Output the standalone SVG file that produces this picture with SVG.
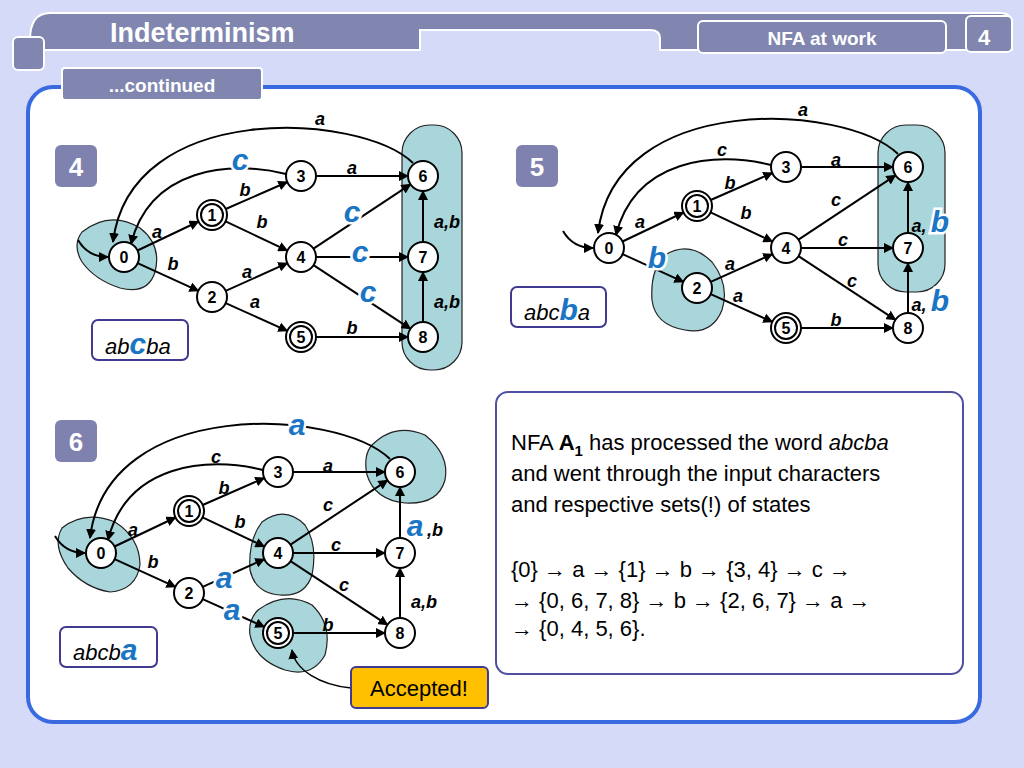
<svg xmlns="http://www.w3.org/2000/svg" width="1024" height="768" viewBox="0 0 1024 768">
<defs>
<marker id="ar" viewBox="0 0 10 10" refX="9" refY="5" markerWidth="10" markerHeight="10" markerUnits="userSpaceOnUse" orient="auto"><path d="M0,0L10,5L0,10z" fill="#000"/></marker>
<style>
.hdr{fill:#8086b0;stroke:#fff;stroke-width:2}
.ht{font-family:"Liberation Sans",Arial,sans-serif;font-weight:bold;fill:#fff}
.n circle{fill:#fff;stroke:#000;stroke-width:2}
.n text{font-family:"Liberation Sans",Arial,sans-serif;font-weight:bold;font-size:16px;text-anchor:middle}
.e path{fill:none;stroke:#000;stroke-width:2;marker-end:url(#ar)}
.l{font-family:"Liberation Sans",Arial,sans-serif;font-weight:bold;font-style:italic;font-size:18px;text-anchor:middle}
.bl{font-family:"Liberation Sans",Arial,sans-serif;font-weight:bold;font-style:italic;font-size:30px;fill:#1a75c4;text-anchor:middle;stroke:#fff;stroke-width:5;paint-order:stroke}
.hl{fill:#a9d6da;stroke:#222;stroke-width:1.2}
.badge{fill:#7f82ae}
.bt{font-family:"Liberation Sans",Arial,sans-serif;font-weight:bold;font-size:26px;fill:#fff;text-anchor:middle}
.wb{fill:#fff;stroke:#403a90;stroke-width:2}
.wt{font-family:"Liberation Sans",Arial,sans-serif;font-style:italic;font-size:22px}
.tx{font-family:"Liberation Sans",Arial,sans-serif;font-size:22px}
</style>
<g id="graph">
<g class="e">
<path d="M78,240 C85,252 95,257 108,257"/>
<path d="M137.5,250.5 L198.5,221.5"/>
<path d="M137.6,263.2 L198.4,290.8"/>
<path d="M225.7,209 L287.3,182"/>
<path d="M225.6,221.4 L287.4,250.6"/>
<path d="M225.7,290.9 L287.3,263.1"/>
<path d="M225.7,303.1 L287.3,330.9"/>
<path d="M316,176 L408,176"/>
<path d="M313.5,248.7 L410.5,184.3"/>
<path d="M316,257 L408,257"/>
<path d="M313.5,265.2 L410.5,328.8"/>
<path d="M316,337 L408,337"/>
<path d="M423,242 L423,191"/>
<path d="M423,322 L423,272"/>
<path d="M413,163 C360,112 130,100 113,242"/>
<path d="M286,174 C230,160 150,168 131,244"/>
</g>
<g class="n">
<circle cx="124" cy="257" r="15"/><text x="124" y="263">0</text>
<circle cx="212" cy="215" r="15"/><circle cx="212" cy="215" r="11"/><text x="212" y="221">1</text>
<circle cx="212" cy="297" r="15"/><text x="212" y="303">2</text>
<circle cx="301" cy="176" r="15"/><text x="301" y="182">3</text>
<circle cx="301" cy="257" r="15"/><text x="301" y="263">4</text>
<circle cx="301" cy="337" r="15"/><circle cx="301" cy="337" r="11"/><text x="301" y="343">5</text>
<circle cx="423" cy="176" r="15"/><text x="423" y="182">6</text>
<circle cx="423" cy="257" r="15"/><text x="423" y="263">7</text>
<circle cx="423" cy="337" r="15"/><text x="423" y="343">8</text>
</g>
</g>
</defs>
<rect width="1024" height="768" fill="#d4daf8"/>
<g id="header">
<path d="M30,40 Q30,13 50,13 L1000,13 Q1012,13 1012,25 L1012,50 L660,50 L660,38 Q660,30 650,30 L420,30 L420,50 L30,50 Z" class="hdr"/>
<text x="110" y="42" font-size="27" class="ht">Indeterminism</text>
<rect x="698" y="21" width="248" height="32" rx="5" class="hdr"/>
<text x="822" y="45" font-size="19" class="ht" text-anchor="middle">NFA at work</text>
<rect x="966" y="16" width="46" height="36" rx="5" class="hdr"/>
<text x="984" y="45" font-size="22" class="ht" text-anchor="middle">4</text>
<rect x="13" y="37" width="31" height="33" rx="5" class="hdr"/>
</g>
<rect x="28" y="87" width="952" height="635" rx="25" fill="#fff" stroke="#3a6ae0" stroke-width="4"/>
<g id="tab"><rect x="62" y="68" width="200" height="32" rx="3" class="hdr"/>
<text x="162" y="92" font-size="19" class="ht" text-anchor="middle">...continued</text></g>

<g id="panel4">
<path class="hl" d="M82,232 Q110,210 140,228 Q162,245 155,272 Q148,295 120,288 Q95,280 82,262 Q72,245 82,232Z"/>
<rect class="hl" x="402" y="125" width="60" height="245" rx="28"/>
<use href="#graph"/>
<rect class="badge" x="55" y="145" width="42" height="42" rx="6"/><text class="bt" x="76" y="176">4</text>
<text class="l" x="320" y="125">a</text>
<text class="bl" x="240" y="170">c</text>
<text class="l" x="245" y="196">b</text>
<text class="l" x="262" y="228">b</text>
<text class="l" x="157" y="238">a</text>
<text class="l" x="173" y="270">b</text>
<text class="l" x="247" y="278">a</text>
<text class="l" x="255" y="308">a</text>
<text class="bl" x="352" y="222">c</text>
<text class="bl" x="360" y="262">c</text>
<text class="bl" x="368" y="302">c</text>
<text class="l" x="352" y="174">a</text>
<text class="l" x="352" y="334">b</text>
<text class="l" x="447" y="228">a,b</text>
<text class="l" x="447" y="308">a,b</text>
<rect class="wb" x="92" y="320" width="96" height="40" rx="6"/>
<text class="wt" x="105" y="354">ab<tspan font-weight="bold" font-size="30" fill="#1a75c4">c</tspan>ba</text>
</g>

<g id="panel5">
<path class="hl" d="M665,255 Q690,240 712,262 Q730,285 722,310 Q712,335 685,330 Q655,325 652,300 Q650,270 665,255Z"/>
<rect class="hl" x="878" y="125" width="67" height="167" rx="28"/>
<use href="#graph" transform="translate(485,-9)"/>
<rect class="badge" x="516" y="145" width="42" height="42" rx="6"/><text class="bt" x="537" y="176">5</text>
<g transform="translate(485,-9)">
<text class="l" x="318" y="125">a</text>
<text class="l" x="237" y="165">c</text>
<text class="l" x="245" y="198">b</text>
<text class="l" x="261" y="228">b</text>
<text class="l" x="155" y="237">a</text>
<text class="bl" x="172" y="277">b</text>
<text class="l" x="245" y="279">a</text>
<text class="l" x="253" y="311">a</text>
<text class="l" x="351" y="215">c</text>
<text class="l" x="358" y="255">c</text>
<text class="l" x="367" y="296">c</text>
<text class="l" x="351" y="175">a</text>
<text class="l" x="351" y="335">b</text>
<text class="l" x="434" y="241">a,</text><text class="bl" x="455" y="241">b</text>
<text class="l" x="434" y="320">a,</text><text class="bl" x="455" y="320">b</text>
</g>
<rect class="wb" x="511" y="287" width="95" height="40" rx="6"/>
<text class="wt" x="524" y="320">abc<tspan font-weight="bold" font-size="30" fill="#1a75c4">b</tspan>a</text>
</g>

<g id="panel6">
<path class="hl" d="M62,528 Q85,510 115,522 Q140,538 140,565 Q136,590 110,592 Q85,588 68,568 Q52,545 62,528Z"/>
<path class="hl" d="M262,522 Q285,505 305,525 Q318,545 312,575 Q305,597 280,595 Q255,593 250,570 Q248,540 262,522Z"/>
<path class="hl" d="M258,610 Q285,590 312,605 Q333,625 325,655 Q312,678 285,670 Q255,660 250,635 Q248,620 258,610Z"/>
<path class="hl" d="M372,445 Q395,422 425,435 Q450,455 445,480 Q438,505 405,503 Q375,500 367,475 Q363,455 372,445Z"/>
<use href="#graph" transform="translate(-23,296)"/>
<rect class="badge" x="55" y="420" width="42" height="42" rx="6"/><text class="bt" x="76" y="451">6</text>
<g transform="translate(-23,296)">
<text class="bl" x="320" y="139">a</text>
<text class="l" x="239" y="167">c</text>
<text class="l" x="247" y="198">b</text>
<text class="l" x="263" y="232">b</text>
<text class="l" x="156" y="240">a</text>
<text class="l" x="176" y="272">b</text>
<text class="bl" x="247" y="292">a</text>
<text class="bl" x="255" y="324">a</text>
<text class="l" x="351" y="215">c</text>
<text class="l" x="359" y="255">c</text>
<text class="l" x="367" y="295">c</text>
<text class="l" x="351" y="176">a</text>
<text class="l" x="351" y="335">b</text>
<text class="bl" x="438" y="240">a</text><text class="l" x="458" y="240">,b</text>
<text class="l" x="447" y="312">a,b</text>
</g>
<rect class="wb" x="60" y="627" width="97" height="40" rx="6"/>
<text class="wt" x="73" y="660">abcb<tspan font-weight="bold" font-size="30" fill="#1a75c4">a</tspan></text>
<path d="M351,688 C320,685 295,670 292,650" fill="none" stroke="#000" stroke-width="1.5" marker-end="url(#ar)"/>
<rect x="351" y="667" width="137" height="41" rx="5" fill="#ffc000" stroke="#403a90" stroke-width="2"/>
<text class="tx" x="419" y="696" text-anchor="middle">Accepted!</text>
</g>

<g id="info">
<rect x="496" y="392" width="467" height="282" rx="12" fill="#fff" stroke="#5050a0" stroke-width="2"/>
<text class="tx" x="511" y="450">NFA <tspan font-weight="bold">A</tspan><tspan font-weight="bold" font-size="15" dy="6">1</tspan><tspan dy="-6">  has processed the word </tspan><tspan font-style="italic">abcba</tspan></text>
<text class="tx" x="511" y="481">and went through the input characters</text>
<text class="tx" x="511" y="512">and respective sets(!) of states</text>
<text class="tx" x="511" y="577">{0} → a → {1} → b → {3, 4} → c →</text>
<text class="tx" x="511" y="608">→ {0, 6, 7, 8} → b → {2, 6, 7} → a →</text>
<text class="tx" x="511" y="636">→ {0, 4, 5, 6}.</text>
</g>
</svg>
